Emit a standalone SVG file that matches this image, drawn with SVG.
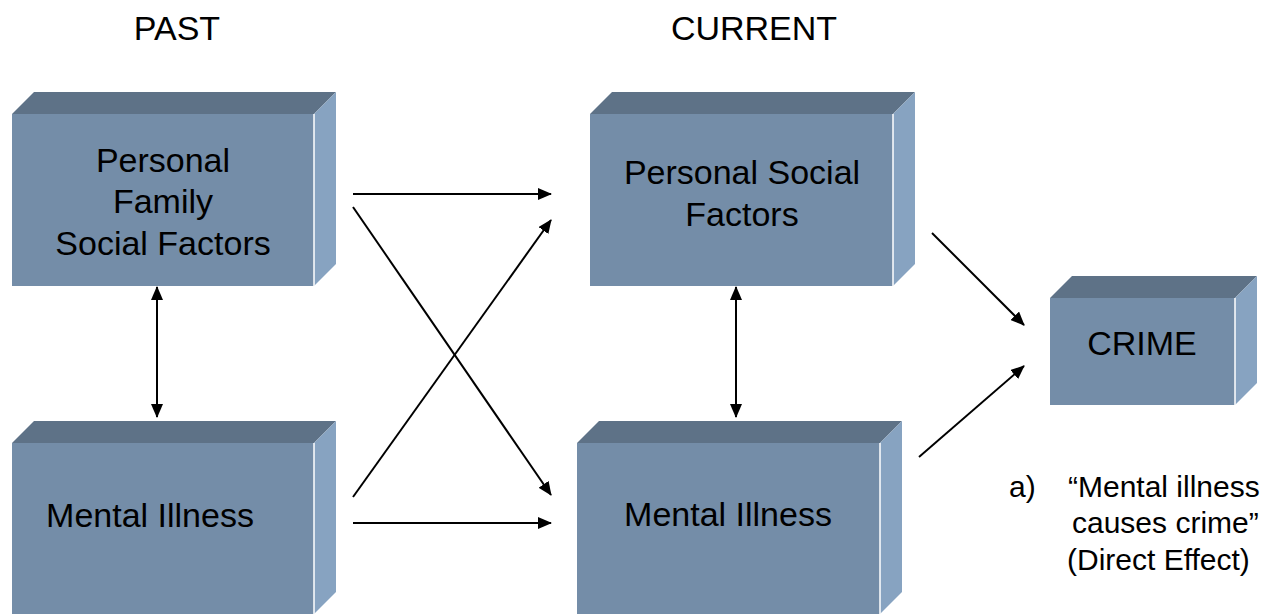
<svg xmlns="http://www.w3.org/2000/svg" width="1275" height="616" viewBox="0 0 1275 616">
<style>
.front{fill:#748da8;}
.top{fill:#5e7287;}
.side{fill:#87a3c1;}
.edge{stroke:#ffffff;stroke-width:1.5;}
text{font-family:"Liberation Sans",Arial,sans-serif;fill:#000;}
.lbl{font-size:34px;text-anchor:middle;}
.title{font-size:34px;text-anchor:middle;}
.note{font-size:30px;}
.conn line{stroke:#000;stroke-width:2;fill:none;}
</style>
<defs>
<marker id="ah" markerUnits="userSpaceOnUse" markerWidth="14" markerHeight="12" refX="13" refY="6" orient="auto-start-reverse" viewBox="0 0 14 12">
<path d="M0,0 L14,6 L0,12 z" fill="#000"/>
</marker>
</defs>
<rect width="1275" height="616" fill="#fff"/>
<text class="title" x="177" y="40">PAST</text>
<text class="title" x="754" y="40">CURRENT</text>

<g id="past-social">
<polygon class="top" points="12,114 34,92 336,92 314,114"/>
<polygon class="side" points="314,114 336,92 336,264 314,286"/>
<rect class="front" x="12" y="114" width="302" height="172"/>
<line class="edge" x1="314" y1="114" x2="314" y2="286"/>
<text class="lbl" x="163" y="172">Personal</text>
<text class="lbl" x="163" y="213">Family</text>
<text class="lbl" x="163" y="255">Social Factors</text>
</g>

<g id="past-mental">
<polygon class="top" points="12,443 34,421 336,421 314,443"/>
<polygon class="side" points="314,443 336,421 336,592 314,614"/>
<rect class="front" x="12" y="443" width="302" height="171"/>
<line class="edge" x1="314" y1="443" x2="314" y2="614"/>
<text class="lbl" x="150" y="527">Mental Illness</text>
</g>

<g id="current-social">
<polygon class="top" points="590,114 612,92 915,92 893,114"/>
<polygon class="side" points="893,114 915,92 915,264 893,286"/>
<rect class="front" x="590" y="114" width="303" height="172"/>
<line class="edge" x1="893" y1="114" x2="893" y2="286"/>
<text class="lbl" x="742" y="184">Personal Social</text>
<text class="lbl" x="742" y="226">Factors</text>
</g>

<g id="current-mental">
<polygon class="top" points="577,443 599,421 902,421 880,443"/>
<polygon class="side" points="880,443 902,421 902,592 880,614"/>
<rect class="front" x="577" y="443" width="303" height="171"/>
<line class="edge" x1="880" y1="443" x2="880" y2="614"/>
<text class="lbl" x="728" y="526">Mental Illness</text>
</g>

<g id="crime">
<polygon class="top" points="1050,298 1072,276 1257,276 1235,298"/>
<polygon class="side" points="1235,298 1257,276 1257,383 1235,405"/>
<rect class="front" x="1050" y="298" width="185" height="107"/>
<line class="edge" x1="1235" y1="298" x2="1235" y2="405"/>
<text class="lbl" x="1142" y="355">CRIME</text>
</g>

<g id="connectors" class="conn">
<line x1="353" y1="194" x2="551" y2="194" marker-end="url(#ah)"/>
<line x1="353" y1="207" x2="551" y2="495" marker-end="url(#ah)"/>
<line x1="353" y1="497" x2="551" y2="220" marker-end="url(#ah)"/>
<line x1="353" y1="523" x2="551" y2="523" marker-end="url(#ah)"/>
<line x1="157" y1="287" x2="157" y2="417" marker-start="url(#ah)" marker-end="url(#ah)"/>
<line x1="736" y1="287" x2="736" y2="417" marker-start="url(#ah)" marker-end="url(#ah)"/>
<line x1="932" y1="233" x2="1024" y2="325" marker-end="url(#ah)"/>
<line x1="919" y1="457" x2="1024" y2="366" marker-end="url(#ah)"/>
</g>

<g id="note">
<text class="note" x="1009" y="497">a)</text>
<text class="note" x="1068" y="497">“Mental illness</text>
<text class="note" x="1072" y="533">causes crime”</text>
<text class="note" x="1067" y="570">(Direct Effect)</text>
</g>
</svg>
